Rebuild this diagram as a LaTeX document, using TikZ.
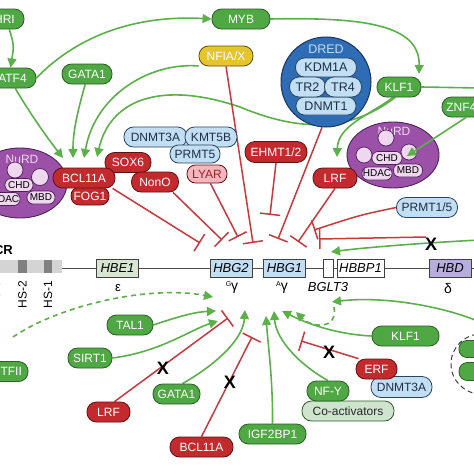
\documentclass[tikz,border=0pt]{standalone}
\usepackage{fontspec}
\setmainfont{Liberation Sans}
\usetikzlibrary{arrows.meta,calc,shapes.geometric}
\newcommand{\myfs}[1]{\fontsize{#1}{#1}\selectfont}
\definecolor{gfill}{HTML}{4FA844}
\definecolor{gdark}{HTML}{2C5E26}
\definecolor{gline}{HTML}{5BB04A}
\definecolor{rfill}{HTML}{C32A2E}
\definecolor{rdark}{HTML}{5E1214}
\definecolor{rline}{HTML}{C8383C}
\definecolor{bfill}{HTML}{C2DEF3}
\definecolor{bdark}{HTML}{2A4560}
\definecolor{btext}{HTML}{1C2E44}
\definecolor{pfill}{HTML}{F2B6BC}
\definecolor{yfill}{HTML}{E5C52B}
\definecolor{ydark}{HTML}{5E5010}
\definecolor{purp}{HTML}{9B51A8}
\definecolor{purpd}{HTML}{4F2058}
\definecolor{pinkf}{HTML}{EFD8EF}
\definecolor{dblue}{HTML}{2E6CB6}
\definecolor{dbluedk}{HTML}{17345E}
\definecolor{cfill}{HTML}{CFE4CF}
\definecolor{hbe}{HTML}{D6E6D0}
\definecolor{hbd}{HTML}{B7AEDD}
\pgfdeclarelayer{back}
\pgfdeclarelayer{bg}
\pgfsetlayers{back,bg,main}
\begin{document}
\begin{tikzpicture}[x=1pt,y=-1pt,
  pill/.style={rectangle, rounded corners=9.5pt, minimum height=20pt, inner sep=0pt, line width=0.8pt, font=\myfs{12}},
  gn/.style={pill, fill=gfill, draw=gdark, text=white},
  rn/.style={pill, fill=rfill, draw=rdark, text=white},
  bn/.style={pill, fill=bfill, draw=bdark, text=btext},
  sm/.style={rectangle, rounded corners=6pt, minimum height=13pt, inner sep=0pt, font=\myfs{10}, fill=pinkf, draw=purpd, text=black, line width=0.7pt},
  bub/.style={circle, fill=pinkf, draw=purpd, line width=0.7pt, inner sep=0pt},
  gene/.style={rectangle, draw=black!75, line width=0.7pt, minimum height=18pt, inner sep=0pt, font=\myfs{13}\itshape},
  act/.style={draw=gline, line width=1.6pt, -{Triangle[length=9pt,width=9pt]}},
  inh/.style={draw=rline, line width=1.5pt, -{Bar[width=20pt]}},
  xmark/.style={font=\myfs{18}\bfseries, text=black, inner sep=0pt},
  lbl/.style={font=\myfs{13}, inner sep=0pt},
]
\begin{pgfonlayer}{back}
\fill[white] (0,0) rectangle (474,474);
\end{pgfonlayer}
\useasboundingbox (0,0) rectangle (474,474);

% ---------- genes ----------
\begin{pgfonlayer}{bg}
\draw[line width=0.8pt, black!70] (62,268) -- (480,268);
\fill[black!17] (-6,260) rectangle (62,273);
\fill[black!50] (18,260) rectangle (27,273);
\fill[black!50] (44,260) rectangle (52,273);
\end{pgfonlayer}
\node[font=\myfs{13}\bfseries, anchor=east, inner sep=0pt] (lcr) at (13,250) {LCR};
\node[rotate=90, anchor=east, font=\myfs{12}, inner sep=0pt] (hs3) at (-4,281) {HS-3};
\node[rotate=90, anchor=east, font=\myfs{12}, inner sep=0pt] (hs2) at (22.5,281) {HS-2};
\node[rotate=90, anchor=east, font=\myfs{12}, inner sep=0pt] (hs1) at (48,281) {HS-1};
\node[gene, fill=hbe, minimum width=42pt] (hbe1) at (117.5,268) {HBE1};
\node[gene, fill=bfill, minimum width=42pt] (hbg2) at (231,268) {HBG2};
\node[gene, fill=bfill, minimum width=42pt] (hbg1) at (284.5,268) {HBG1};
\node[gene, fill=white, minimum width=10pt] (bglt3) at (328,268) {};
\node[gene, fill=white, minimum width=47pt] (hbbp1) at (360.5,268) {HBBP1};
\node[gene, fill=hbd, minimum width=42pt] (hbd) at (450,268) {HBD};
\node[lbl] (eps) at (118,288) {ε};
\node[lbl, font=\myfs{14}] (gg) at (232,288) {\raisebox{4pt}{\myfs{7}G}γ};
\node[lbl, font=\myfs{14}] (ag) at (282,288) {\raisebox{4pt}{\myfs{7}A}γ};
\node[lbl, font=\myfs{13}\itshape] (bgl) at (328,287) {BGLT3};
\node[lbl, font=\myfs{14}] (del) at (448,288) {δ};

% ---------- top nodes ----------
\node[gn, minimum width=39pt] (hri) at (4.5,19) {HRI};
\node[gn, minimum width=47pt] (atf4) at (12.5,78) {ATF4};
\node[gn, minimum width=50pt] (gata1t) at (87,74) {GATA1};
\node[gn, minimum width=58pt] (myb) at (241,19) {MYB};
\node[pill, fill=yfill, draw=ydark, text=white, minimum width=54pt] (nfia) at (226,56) {NFIA/X};

\node[circle, fill=dblue, draw=dbluedk, line width=1pt, minimum size=90pt, inner sep=0pt] (dred) at (326,82) {};
\node[font=\myfs{12.5}, text=bfill, inner sep=0pt] (dredl) at (326,49) {DRED};
\node[bn, minimum width=61pt, minimum height=19pt, rounded corners=9pt, font=\myfs{12.5}] (kdm) at (326,67.5) {KDM1A};
\node[bn, minimum width=60pt, minimum height=18pt, rounded corners=8.5pt, font=\myfs{12.5}] (dnmt1) at (326,106) {DNMT1};
\node[bn, minimum width=36pt, minimum height=20pt, font=\myfs{12.5}] (tr2) at (307.5,87) {TR2};
\node[bn, minimum width=37pt, minimum height=20pt, font=\myfs{12.5}] (tr4) at (343,87) {TR4};

\node[gn, minimum width=44pt] (klf1t) at (399,87) {KLF1};
\node[gn, minimum width=52pt] (znf) at (468,107) {ZNF410};

\node[ellipse, fill=purp, draw=purpd, line width=0.9pt, minimum width=92pt, minimum height=66pt, inner sep=0pt] (nurd2) at (393,155) {};
\node[font=\myfs{12}, text=pinkf, inner sep=0pt] (nurd2l) at (394,131) {NuRD};
\node[bub, minimum size=16pt] (c21) at (386,138) {};
\node[bub, minimum size=16pt] (c22) at (364,155) {};
\node[bub, minimum size=16pt] (c23) at (409,152) {};
\node[sm, minimum width=30pt] (chd2) at (387,158) {CHD};
\node[sm, minimum width=30pt] (hdac2) at (377,173.5) {HDAC};
\node[sm, minimum width=29pt] (mbd2) at (408,170.5) {MBD};

\node[rn, minimum width=62pt, minimum height=21pt, rounded corners=10pt] (ehmt) at (276,152) {EHMT1/2};
\node[rn, minimum width=44pt] (lrft) at (335,178) {LRF};
\node[bn, minimum width=61pt] (prmt15) at (427,207.5) {PRMT1/5};

\node[bn, minimum width=63pt] (dnmt3at) at (155.5,137) {DNMT3A};
\node[bn, minimum width=52pt] (kmt5b) at (211,137) {KMT5B};
\node[bn, minimum width=50pt, minimum height=18pt, rounded corners=8.5pt] (prmt5) at (195,154) {PRMT5};
\node[pill, fill=pfill, draw=rdark, text=rfill!80!black, minimum width=40pt, minimum height=18pt, rounded corners=8.5pt] (lyar) at (207,174) {LYAR};

\node[ellipse, fill=purp, draw=purpd, line width=0.9pt, minimum width=94pt, minimum height=70pt, inner sep=0pt] (nurd1) at (20,183) {};
\node[font=\myfs{12}, text=pinkf, inner sep=0pt] (nurd1l) at (22,159) {NuRD};
\node[bub, minimum size=16pt] (c11) at (15,170) {};
\node[bub, minimum size=17pt] (c12) at (40,177) {};
\node[sm, minimum width=30pt] (hdac1) at (5,199) {HDAC};
\node[sm, minimum width=28pt] (chd1) at (19,185) {CHD};
\node[sm, minimum width=28pt] (mbd1) at (41,197.5) {MBD};

\node[rn, minimum width=38pt, minimum height=18pt, rounded corners=8.5pt] (fog1) at (90,196) {FOG1};
\node[rn, minimum width=46pt] (sox6) at (128,162.5) {SOX6};
\node[rn, minimum width=62pt] (bcl11at) at (84,178) {BCL11A};
\node[rn, minimum width=47pt] (nono) at (155,182) {NonO};

% ---------- bottom nodes ----------
\node[gn, minimum width=43pt] (gtf) at (6.5,371.5) {GTFII};
\node[gn, minimum width=46pt] (tal1) at (130,325) {TAL1};
\node[gn, minimum width=44pt] (sirt1) at (90,358) {SIRT1};
\node[rn, minimum width=43pt] (lrfb) at (108.5,412) {LRF};
\node[gn, minimum width=47pt] (gata1b) at (176.5,394) {GATA1};
\node[rn, minimum width=63pt] (bcl11ab) at (201.5,447) {BCL11A};
\node[gn, minimum width=67pt] (igf) at (272.5,434) {IGF2BP1};
\node[pill, fill=cfill, draw=gdark, text=black!85, minimum width=92pt] (coact) at (348,411) {Co-activators};
\node[gn, minimum width=42pt] (nfy) at (328,391) {NF-Y};
\node[gn, minimum width=67pt] (klf1b) at (405.5,336) {KLF1};
\node[bn, minimum width=61pt, minimum height=21pt, rounded corners=10pt] (dnmt3ab) at (401.5,387) {DNMT3A};
\node[rn, minimum width=41pt] (erf) at (376.5,369) {ERF};
\node[gn, minimum width=30pt, minimum height=17pt, rounded corners=8pt] (rp1) at (474,349) {};
\node[gn, minimum width=30pt, minimum height=18pt, rounded corners=8.5pt] (rp2) at (474,371.5) {};

% ---------- coordinates ----------
\coordinate (eR1) at (480,88);
\coordinate (eR2) at (480,240);
\coordinate (eR3) at (480,322);
\coordinate (xR) at (426,237);
\coordinate (gtfs) at (13,337);
\coordinate (dstart) at (334,307);
\coordinate (i1) at (200,243);
\coordinate (i2) at (222,240);
\coordinate (i3) at (238,237);
\coordinate (i4) at (253,243);
\coordinate (i5) at (270,215);
\coordinate (i6) at (278,239);
\coordinate (i7) at (298,242);
\coordinate (i8) at (314,230);
\coordinate (i9) at (319,239);
\coordinate (j1) at (228,318);
\coordinate (j2) at (252,337);
\coordinate (j3) at (301,341);
\coordinate (b1) at (63,158);
\coordinate (b2) at (73,158);
\coordinate (b3) at (84,158);
\coordinate (b4) at (97,157);
\coordinate (kend) at (419,74);
\coordinate (lend) at (337,157);
\coordinate (zend) at (407,156);
\coordinate (a1) at (213,297);
\coordinate (a2) at (216,311);
\coordinate (a3) at (218,321);
\coordinate (a4) at (245,310);
\coordinate (a5) at (266,316);
\coordinate (a6) at (274,311);
\coordinate (a7) at (282,311);
\coordinate (a8) at (296,312);
\coordinate (a9) at (332,302);
\coordinate (a10) at (331,252);

% ---------- connectors ----------
\begin{pgfonlayer}{bg}
\draw[act] (hri.-65) .. controls (14,45) .. (atf4.100);
\draw[act] (atf4.east) .. controls (80,33) and (140,15) .. (myb.west);
\draw[act] (atf4.-75) .. controls (28,110) and (45,135) .. (b1);
\draw[act] (gata1t.-100) .. controls (78,110) and (73,130) .. (b2);
\draw[act] (nfia.200) .. controls (150,62) and (95,95) .. (b3);
\draw[act] (klf1t.-110) .. controls (350,132) and (300,132) .. (240,107) .. controls (160,80) and (110,100) .. (b4);
\draw[act] (myb.east) .. controls (365,17) and (420,25) .. (kend);
\draw[draw=gline, line width=1.6pt] (klf1t.east) -- (eR1);
\draw[act] (klf1t.-120) .. controls (370,115) and (338,125) .. (lend);

\draw[inh] (bcl11at.-20) -- (i1);
\draw[inh] (nono.-30) -- (i2);
\draw[inh] (lyar.-70) -- (i3);
\draw[inh] (nfia.south) -- (i4);
\draw[inh] (ehmt.south) -- (i5);
\draw[inh] (dred.-95) -- (i6);
\draw[inh] (lrft.south) -- (i7);
\draw[inh] (prmt15.west) .. controls (360,215) .. (i8);
\draw[inh] (xR) -- (i9);
\draw[act] (eR2) .. controls (420,243) and (360,248) .. (a10);

\draw[act, dash pattern=on 5pt off 4pt] (gtfs) .. controls (60,305) and (150,285) .. (a1);
\draw[act] (tal1.east) .. controls (180,316) and (195,312) .. (a2);
\draw[act] (sirt1.east) .. controls (160,352) and (190,330) .. (a3);
\draw[inh] (lrfb.60) -- (j1);
\draw[act] (gata1b.60) .. controls (215,365) and (243,340) .. (a4);
\draw[inh] (bcl11ab.north) -- (j2);
\draw[act] (igf.north) .. controls (273,380) and (268,345) .. (a5);
\draw[act] (nfy.north) .. controls (300,365) and (276,340) .. (a6);
\draw[act] (klf1b.west) .. controls (330,334) and (300,320) .. (a7);
\draw[inh] (erf.150) -- (j3);
\draw[act] (eR3) .. controls (440,305) and (380,296) .. (a9);
\draw[act, dash pattern=on 5pt off 4pt] (dstart) .. controls (338,330) and (312,328) .. (a8);
\draw[black!75, line width=1pt, dash pattern=on 5pt off 3.5pt] (481,364) circle[radius=30pt];
\end{pgfonlayer}

\draw[act] (znf.-100) -- (zend);

\node[xmark] (x1) at (431,244) {X};
\node[xmark] (x2) at (163,368) {X};
\node[xmark] (x3) at (230,382) {X};
\node[xmark] (x4) at (329,352) {X};
\end{tikzpicture}
\end{document}
